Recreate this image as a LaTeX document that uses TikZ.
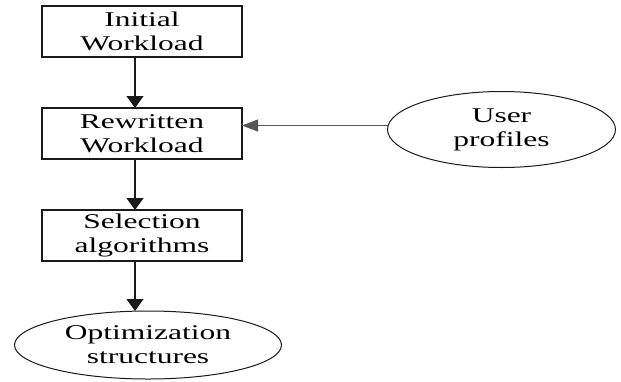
\documentclass[tikz,border=0pt]{standalone}
\usepackage{fontspec}
\setmainfont{Liberation Serif}[FakeStretch=1.5]
\usepackage{tikz}
\usetikzlibrary{
  arrows.meta,
  shapes.geometric,
  positioning
}
\definecolor{wlLine}{HTML}{1A1A1A}
\definecolor{wlMute}{HTML}{555555}
\tikzset{
  wlnode/.style={
    draw=wlLine, line width=0.6pt, align=center, inner sep=0pt, outer sep=0pt,
    font=\fontsize{10.5}{12}\selectfont
  },
  wlbox/.style={wlnode, rectangle, minimum width=100pt, minimum height=25.5pt},
  wlellipse/.style={wlnode, ellipse, line width=0.5pt},
  downflow/.style={-{Triangle[length=6pt, width=8.5pt]}, line width=0.6pt, wlLine},
  sideflow/.style={-{Triangle[length=8pt, width=6pt]}, line width=0.5pt, wlMute}
}
\begin{document}
\begin{tikzpicture}[node distance=25.5pt]
  \useasboundingbox (0,0) rectangle (310.5pt,-190.5pt);
  \node[wlbox] (init) at (71pt,-15.75pt) {Initial\\Workload};
  \node[wlbox, below=of init] (rewr) {Rewritten\\Workload};
  \node[wlbox, below=of rewr] (sel) {Selection\\algorithms};
  \node[wlellipse, minimum width=133.5pt, minimum height=34pt, below=25pt of sel, xshift=3pt] (opt) {Optimization\\structures};
  \node[wlellipse, minimum width=114pt, minimum height=38pt, right=72.75pt of rewr, yshift=2pt] (user) {User\\profiles};
  \draw[downflow] ([xshift=-3.5pt]init.south) -- ([xshift=-3.5pt]rewr.north);
  \draw[downflow] ([xshift=-3.5pt]rewr.south) -- ([xshift=-3.5pt]sel.north);
  \draw[downflow] ([xshift=-3.5pt]sel.south) -- ([xshift=-6.5pt]opt.north);
  \draw[sideflow] ([yshift=2pt]user.west) -- ([yshift=4pt]rewr.east);
\end{tikzpicture}
\end{document}
